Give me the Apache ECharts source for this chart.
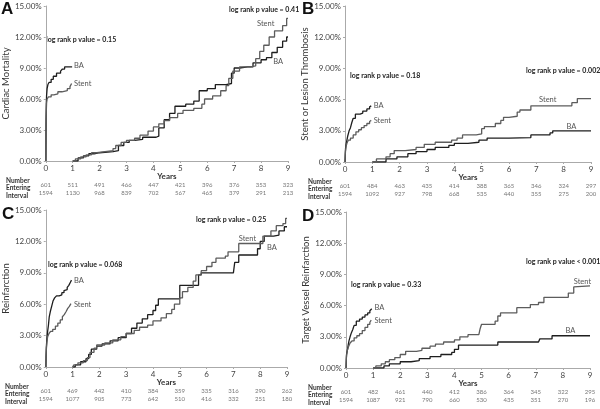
<!DOCTYPE html>
<html>
<head>
<meta charset="utf-8">
<script src="https://cdn.jsdelivr.net/npm/echarts@6/dist/echarts.min.js"></script>
<style>
  html, body { margin: 0; padding: 0; background: #fff; }
  #chart { width: 600px; height: 409px; }
</style>
</head>
<body>
<div id="chart"></div>
<script>
// 数据：[年, 累计发生率%]
const aBaEarly = [[0,0],[0.005,2],[0.01,4],[0.02,5.5],[0.03,6.3],[0.05,7.0],[0.08,7.4],[0.12,7.6],[0.2,7.9],[0.28,8.2],[0.4,8.5],[0.55,8.7],[0.62,8.9],[0.7,9.1],[0.98,9.1]]
const aStentEarly = [[0,0],[0.005,2],[0.01,3.5],[0.02,4.8],[0.03,5.6],[0.05,6.0],[0.1,6.2],[0.2,6.4],[0.3,6.5],[0.45,6.7],[0.6,6.8],[0.8,7.0],[0.9,7.2],[0.96,7.5],[0.98,7.5]]
const aBaLate = [[1,0],[1.2,0.3],[1.4,0.5],[1.6,0.7],[1.8,0.8],[2.0,0.9],[2.5,1.0],[2.7,1.5],[2.9,1.8],[3.1,2.0],[3.3,2.1],[3.6,2.3],[4.1,2.4],[4.2,3.2],[4.4,4.0],[4.6,4.6],[4.8,5.3],[5.2,5.5],[5.5,5.8],[5.7,6.8],[6.0,7.0],[6.3,7.4],[6.7,7.5],[6.9,8.5],[7.0,9.0],[7.2,9.1],[7.5,9.1],[7.7,9.5],[8.0,9.8],[8.2,10.0],[8.4,10.5],[8.6,11.0],[8.8,11.6],[8.95,12.0],[9.0,12.0]]
const aStentLate = [[1,0],[1.1,0.2],[1.3,0.4],[1.5,0.6],[1.7,0.8],[1.9,0.9],[2.2,1.0],[2.5,1.2],[2.6,1.5],[2.8,1.8],[3.0,2.0],[3.3,2.2],[3.5,2.5],[3.8,2.9],[4.0,3.3],[4.2,3.6],[4.4,3.9],[4.6,4.2],[4.9,4.6],[5.1,4.9],[5.5,5.1],[5.8,5.5],[5.9,6.0],[6.2,6.3],[6.5,6.8],[6.7,7.3],[6.8,8.0],[6.95,8.7],[7.2,9.1],[7.6,9.2],[7.8,9.9],[7.95,10.6],[8.1,11.2],[8.3,12.0],[8.5,12.6],[8.8,13.1],[8.95,13.8],[9.0,13.8]]

const bBaEarly = [[0,0],[0.01,0.8],[0.02,1.3],[0.04,1.7],[0.07,2.1],[0.1,2.5],[0.15,3.0],[0.2,3.3],[0.25,3.8],[0.3,4.2],[0.38,4.6],[0.55,4.7],[0.65,4.9],[0.8,5.1],[0.9,5.3],[0.96,5.4],[0.98,5.4]]
const bStentEarly = [[0,0],[0.01,0.7],[0.02,1.1],[0.04,1.5],[0.07,1.8],[0.12,2.1],[0.2,2.3],[0.3,2.6],[0.4,2.9],[0.5,3.1],[0.6,3.3],[0.7,3.5],[0.8,3.7],[0.9,3.9],[0.96,4.0],[0.98,4.0]]
const bBaLate = [[1,0],[1.5,0.3],[1.9,0.5],[2.3,0.8],[2.6,1.0],[3.0,1.2],[3.3,1.4],[3.8,1.6],[4.0,1.8],[4.5,1.9],[4.9,2.1],[5.2,2.3],[6.0,2.35],[6.8,2.6],[7.5,2.8],[7.6,3.0],[9.0,3.0]]
const bStentLate = [[1,0],[1.15,0.3],[1.5,0.5],[1.65,0.8],[1.8,1.1],[2.2,1.2],[2.6,1.4],[2.9,1.7],[3.3,1.9],[3.9,2.1],[4.1,2.3],[4.3,2.6],[4.8,2.7],[5.0,3.2],[5.1,3.4],[5.5,3.7],[5.7,4.0],[5.8,4.3],[6.0,4.4],[6.3,4.8],[6.4,5.0],[6.8,5.4],[8.2,5.4],[8.3,5.7],[8.5,6.1],[9.0,6.1]]

const cBaEarly = [[0,0],[0.01,1],[0.02,1.8],[0.04,2.6],[0.07,3.4],[0.1,4.0],[0.13,4.8],[0.17,5.3],[0.22,5.8],[0.27,6.3],[0.33,6.6],[0.4,6.8],[0.5,6.9],[0.6,7.1],[0.68,7.3],[0.75,7.4],[0.8,7.6],[0.86,7.8],[0.92,8.1],[0.96,8.3],[0.98,8.3]]
const cStentEarly = [[0,0],[0.01,0.9],[0.02,1.6],[0.04,2.3],[0.07,2.9],[0.12,3.2],[0.18,3.4],[0.26,3.6],[0.36,3.9],[0.45,4.2],[0.54,4.5],[0.62,4.8],[0.69,5.0],[0.76,5.3],[0.82,5.6],[0.88,5.8],[0.94,6.05],[0.96,6.05]]
const cBaLate = [[1,0],[1.1,0.2],[1.3,0.5],[1.5,0.8],[1.6,1.2],[1.7,1.7],[1.9,2.0],[2.1,2.2],[2.4,2.5],[2.7,2.8],[3.0,3.2],[3.2,3.7],[3.4,4.2],[3.6,4.6],[3.8,5.0],[4.0,5.4],[4.1,5.9],[4.2,6.5],[4.9,6.5],[5.0,7.8],[5.6,7.8],[5.7,8.8],[5.8,9.0],[7.0,9.0],[7.05,10.0],[7.2,10.7],[7.8,10.7],[7.9,11.3],[8.0,12.0],[8.15,12.5],[8.5,12.6],[8.7,13.0],[8.9,13.4],[9,13.4]]
const cStentLate = [[1,0],[1.05,0.2],[1.2,0.4],[1.4,0.6],[1.55,0.9],[1.65,1.4],[1.8,1.8],[1.9,2.1],[2.2,2.3],[2.5,2.6],[2.8,2.9],[3.0,3.2],[3.3,3.5],[3.5,3.8],[3.8,4.0],[4.0,4.4],[4.3,4.7],[4.5,5.1],[4.7,5.5],[4.8,6.0],[5.0,6.6],[5.1,7.2],[5.3,7.6],[5.5,8.2],[5.6,8.8],[5.8,9.2],[6.0,9.6],[6.2,10.0],[6.35,10.4],[6.7,10.6],[6.8,11.0],[7.2,11.8],[8.0,11.8],[8.1,12.5],[8.4,13.0],[8.6,13.5],[8.85,13.7],[8.95,14.2],[9,14.2]]

const dBaEarly = [[0,0],[0.01,0.8],[0.02,1.3],[0.05,1.7],[0.08,2.2],[0.11,2.6],[0.15,3.0],[0.2,3.4],[0.25,3.7],[0.3,4.1],[0.38,4.5],[0.5,4.7],[0.6,4.9],[0.7,5.1],[0.8,5.3],[0.88,5.5],[0.95,5.7],[0.97,5.7]]
const dStentEarly = [[0,0],[0.01,0.7],[0.02,1.2],[0.05,1.7],[0.1,2.1],[0.15,2.4],[0.22,2.6],[0.3,2.9],[0.4,3.1],[0.5,3.3],[0.6,3.6],[0.7,3.9],[0.8,4.2],[0.88,4.4],[0.93,4.6],[0.95,4.6]]
const dBaLate = [[1,0],[1.4,0.2],[1.6,0.4],[2.0,0.6],[2.4,0.7],[2.7,0.9],[3.1,1.1],[3.5,1.3],[3.9,1.5],[4.0,1.8],[4.15,2.2],[5.5,2.2],[5.6,2.5],[7.1,2.5],[7.15,2.8],[7.6,3.1],[9.0,3.1]]
const dStentLate = [[1,0],[1.1,0.2],[1.3,0.4],[1.45,0.6],[1.6,0.8],[1.8,1.0],[2.0,1.3],[2.2,1.6],[2.6,1.7],[2.8,1.9],[3.1,2.1],[3.3,2.3],[3.6,2.5],[4.0,2.7],[4.2,3.0],[4.5,3.2],[4.9,3.3],[4.95,3.8],[5.0,4.2],[5.5,4.5],[5.6,5.0],[5.7,5.3],[6.2,5.3],[6.3,5.8],[6.8,6.1],[7.1,6.3],[7.3,6.8],[8.0,6.8],[8.2,7.2],[8.4,7.8],[8.45,7.9],[9.0,7.9]]

// 每年入组人数（两行）
const aRow1 = [601,511,491,466,447,421,396,376,353,323]
const aRow2 = [1594,1130,968,839,702,567,465,379,291,213]
const bRow1 = [601,484,463,435,414,388,365,346,324,297]
const bRow2 = [1594,1092,927,798,668,535,440,355,275,200]
const cRow1 = [601,469,442,410,384,359,335,316,290,262]
const cRow2 = [1594,1077,905,773,642,510,416,332,251,180]
const dRow1 = [601,482,461,440,412,386,364,345,322,295]
const dRow2 = [1594,1087,921,790,660,530,435,351,270,196]

const yTicks = [0, 3, 6, 9, 12, 15]
const yNames = ['Cardiac Mortality', 'Stent or Lesion Thrombosis', 'Reinfarction', 'Target Vessel Reinfarction']
const pEarly = ['log rank p value = 0.15', 'log rank p value = 0.18', 'log rank p value = 0.068', 'log rank p value = 0.33']
const pLate = ['log rank p value = 0.41', 'log rank p value = 0.002', 'log rank p value = 0.25', 'log rank p value < 0.001']

const font = 'Lato, "Open Sans", sans-serif'
const baColor = '#1e1e1e'
const stentColor = '#5c5c5c'

// 面板布局
const panels = [
  { letter: 'A', grid: { left: 41, top: 6, width: 247, height: 155 }, nameGap: 29,
    rows: [aRow1, aRow2], curves: [aBaEarly, aStentEarly, aBaLate, aStentLate],
    labels: [[1.05, 9.2], [1.05, 7.5], [8.45, 9.6], [7.85, 13.3]],
    pEarlyPos: [46, 40], pLatePos: [229, 10], letterPos: [1, 8], tablePos: [6, 308] },
  { letter: 'B', grid: { left: 345, top: 6, width: 246, height: 156 }, nameGap: 28,
    rows: [bRow1, bRow2], curves: [bBaEarly, bStentEarly, bBaLate, bStentLate],
    labels: [[1.05, 5.4], [1.05, 4.0], [8.1, 3.4], [7.1, 6.0]],
    pEarlyPos: [350, 76], pLatePos: [526, 71], letterPos: [302, 8], tablePos: [308, 308] },
  { letter: 'C', grid: { left: 44, top: 210, width: 243, height: 157 }, nameGap: 31,
    rows: [cRow1, cRow2], curves: [cBaEarly, cStentEarly, cBaLate, cStentLate],
    labels: [[1.05, 8.3], [1.05, 6.0], [8.25, 11.4], [7.2, 12.3]],
    pEarlyPos: [48, 265], pLatePos: [196, 220], letterPos: [2, 213], tablePos: [5, 308] },
  { letter: 'D', grid: { left: 346, top: 212, width: 244, height: 156 }, nameGap: 29,
    rows: [dRow1, dRow2], curves: [dBaEarly, dStentEarly, dBaLate, dStentLate],
    labels: [[1.05, 5.8], [1.05, 4.6], [8.1, 3.6], [8.4, 8.3]],
    pEarlyPos: [351, 285], pLatePos: [526, 262], letterPos: [302, 215], tablePos: [308, 308] }
]

const grids = []
const xAxes = []
const yAxes = []
const series = []
const graphics = []

panels.forEach((p, i) => {
  grids.push(p.grid)
  const axisY = p.grid.top + p.grid.height

  // 主x轴
  xAxes.push({
    gridIndex: i, type: 'value', min: 0, max: 9, interval: 1,
    name: 'Years', nameLocation: 'middle', nameGap: 10,
    nameTextStyle: { fontFamily: font, fontWeight: 'bold', fontSize: 8, color: '#333' },
    axisLine: { lineStyle: { color: '#aaa', width: 1 } },
    axisTick: { show: true, length: 2, lineStyle: { color: '#aaa' } },
    axisLabel: { fontFamily: font, fontSize: 8, color: '#444', margin: 3 },
    splitLine: { show: false }
  })
  // 人数表格两行（借用x轴刻度对齐）
  p.rows.forEach((row, r) => {
    xAxes.push({
      gridIndex: i, type: 'value', min: 0, max: 9, interval: 1, position: 'bottom',
      offset: r === 0 ? 21 : 29,
      axisLine: { show: false }, axisTick: { show: false }, splitLine: { show: false },
      axisLabel: { fontFamily: font, fontSize: 6, color: '#777', margin: 0,
        formatter: v => row[Math.round(v)] }
    })
  })

  yAxes.push({
    gridIndex: i, type: 'value', min: 0, max: 15, interval: 3,
    name: yNames[i], nameLocation: 'middle', nameGap: p.nameGap, nameRotate: 90,
    nameTextStyle: { fontFamily: font, fontSize: 9.5, color: '#333' },
    axisLine: { show: true, lineStyle: { color: '#aaa', width: 1 } },
    axisTick: { show: true, length: 2, lineStyle: { color: '#aaa' } },
    axisLabel: { fontFamily: font, fontSize: 8, color: '#444', margin: 4,
      formatter: v => yTicks.includes(v) ? v.toFixed(2) + '%' : '' },
    splitLine: { show: false }
  })

  const names = ['BA', 'Stent', 'BA', 'Stent']
  p.curves.forEach((data, k) => {
    series.push({
      type: 'line', step: 'end', xAxisIndex: i * 3, yAxisIndex: i,
      data: data, showSymbol: false, symbol: 'none', animation: false, silent: true,
      lineStyle: { color: k % 2 === 0 ? baColor : stentColor, width: 1.3 },
      markPoint: {
        symbol: 'circle', symbolSize: 0, silent: true, animation: false,
        label: { show: true, position: 'right', distance: 0, formatter: '{b}',
          fontFamily: font, fontSize: 7.5, color: '#555' },
        data: [{ name: names[k], coord: p.labels[k] }]
      }
    })
  })

  graphics.push({ type: 'text', left: p.letterPos[0], top: p.letterPos[1] - 7,
    style: { text: p.letter, font: 'bold 17px "Liberation Sans", Arial, sans-serif', fill: '#111' } })
  graphics.push({ type: 'text', left: p.pEarlyPos[0], top: p.pEarlyPos[1] - 4,
    style: { text: pEarly[i], font: 'bold 7px ' + font, fill: '#222' } })
  graphics.push({ type: 'text', left: p.pLatePos[0], top: p.pLatePos[1] - 4,
    style: { text: pLate[i], font: 'bold 7px ' + font, fill: '#222' } })
  graphics.push({ type: 'text', left: p.tablePos[0], top: axisY + 16,
    style: { text: 'Number\nEntering\nInterval', font: 'bold 6.5px ' + font, fill: '#333', lineHeight: 7.5 } })
})

const option = {
  animation: false,
  backgroundColor: '#fff',
  grid: grids,
  xAxis: xAxes,
  yAxis: yAxes,
  series: series,
  graphic: graphics
}

const chart = echarts.init(document.getElementById('chart'))
chart.setOption(option)
</script>
</body>
</html>
